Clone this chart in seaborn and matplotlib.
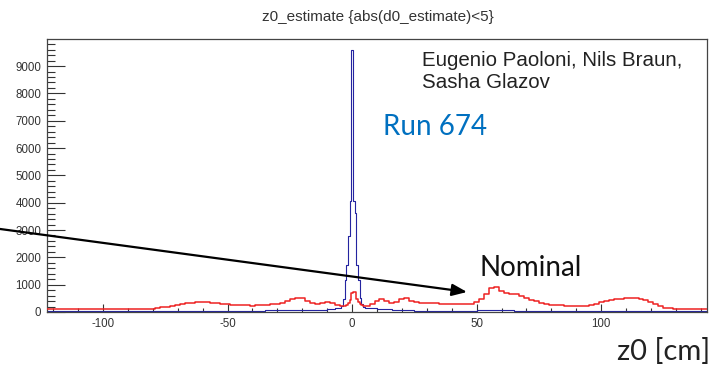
import numpy as np
import matplotlib
matplotlib.use("Agg")
import matplotlib.pyplot as plt
import seaborn as sns
from matplotlib.ticker import MultipleLocator
from matplotlib.patches import FancyArrowPatch

# ---- binning: 2 cm bins outside the core, 2/3 cm bins for |z0| < 5 cm ----
core_edges = np.linspace(-5, 5, 16)

nominal_edges = np.concatenate([
    np.arange(-123, -5 + 1e-9, 2.0),
    core_edges[1:],
    np.arange(7, 143 + 1e-9, 2.0),
]).tolist()
run_edges = np.concatenate([
    [-123, -60, -35, -20, -10, -7],
    core_edges,
    [7, 10, 16, 25, 50, 65, 143],
]).tolist()

# ---- counts per bin ----
nominal_left = [110, 95, 105, 100, 95, 110, 100, 105, 95, 100,
                110, 100, 95, 105, 100, 110, 100, 95, 105, 110,
                115, 120, 140, 170, 200, 230, 260, 290, 320, 340,
                355, 360, 350, 345, 330, 310, 290, 270, 255, 245,
                240, 235, 240, 250, 265, 280, 300, 330, 390, 460,
                530, 520, 420, 330, 310, 330, 360, 320, 240]
nominal_core = [230, 220, 210, 230, 260, 320, 450, 700, 740, 720,
                480, 360, 300, 250, 220]
nominal_right = [210, 300, 420, 460, 400, 330, 350, 460, 530, 420,
                 360, 340, 330, 320, 320, 310, 300, 290, 280, 275,
                 280, 300, 350, 470, 650, 880, 920, 780, 700, 660,
                 650, 600, 520, 450, 390, 340, 300, 270, 250, 240,
                 230, 225, 220, 225, 235, 260, 300, 350, 400, 430,
                 460, 480, 500, 515, 510, 490, 440, 360, 280, 210,
                 160, 130, 110, 100, 95, 100, 105, 95, 100]
nominal_counts = nominal_left + nominal_core + nominal_right

run_left = [20, 30, 60, 80, 100, 130]
run_core = [160, 230, 480, 1180, 1730, 2770, 4050, 9570, 4050, 3630,
            1730, 1180, 500, 280, 180]
run_right = [150, 140, 120, 70, 30, 60, 20]
run_counts = run_left + run_core + run_right

x_ticks = [-100, -50, 0, 50, 100]
y_ticks = [0, 1000, 2000, 3000, 4000, 5000, 6000, 7000, 8000, 9000]

W, H = 713, 365


def fig_xy(x, y):
    return x / W, 1 - y / H


def centers(edges):
    e = np.asarray(edges, dtype=float)
    return 0.5 * (e[:-1] + e[1:])


sns.set_style("white")
plt.rcParams["font.family"] = ["Liberation Sans", "DejaVu Sans"]

fig = plt.figure(figsize=(W / 100, H / 100), dpi=100)
ax = fig.add_axes([47 / W, 1 - 312 / H, (707 - 47) / W, (312 - 39) / H])

sns.histplot(x=centers(nominal_edges), weights=nominal_counts,
             bins=nominal_edges, element="step", fill=False,
             color="#ee2222", linewidth=1.1, ax=ax, zorder=3)
sns.histplot(x=centers(run_edges), weights=run_counts,
             bins=run_edges, element="step", fill=False,
             color="#2424a0", linewidth=0.8, ax=ax, zorder=2)

ax.set_xlim(-122.5, 142.5)
ax.set_ylim(0, 9990)
ax.set_xlabel("")
ax.set_ylabel("")

ax.set_xticks(x_ticks)
ax.set_xticklabels([str(v) for v in x_ticks])
ax.xaxis.set_minor_locator(MultipleLocator(10))
ax.set_yticks(y_ticks)
ax.set_yticklabels([str(v) for v in y_ticks])
ax.yaxis.set_minor_locator(MultipleLocator(200))

ax.tick_params(axis="both", which="both", direction="in", colors="#333333",
               width=0.8, labelsize=8.3,
               left=True, bottom=True, right=False, top=False)
ax.tick_params(axis="y", which="major", length=13, pad=4)
ax.tick_params(axis="y", which="minor", length=5.8)
ax.tick_params(axis="x", which="major", length=5.8, pad=4)
ax.tick_params(axis="x", which="minor", length=2.9)

for side in ["left", "right", "top", "bottom"]:
    ax.spines[side].set_visible(True)
    ax.spines[side].set_color("#444444")
    ax.spines[side].set_linewidth(0.9)

fig.text(*fig_xy(378, 17), "z0_estimate {abs(d0_estimate)<5}",
         ha="center", va="center", fontsize=11, color="#333333")
fig.text(*fig_xy(422, 60), "Eugenio Paoloni, Nils Braun,",
         ha="left", va="center", fontsize=14.8, color="#222222")
fig.text(*fig_xy(422, 82), "Sasha Glazov",
         ha="left", va="center", fontsize=14.8, color="#222222")
fig.text(*fig_xy(383, 127), "Run 674", ha="left", va="center",
         fontsize=20, color="#0070C0", family=["Lato", "DejaVu Sans"])
fig.text(*fig_xy(480, 268), "Nominal", ha="left", va="center",
         fontsize=20, color="#111111", family=["Lato", "DejaVu Sans"])
fig.text(*fig_xy(710, 351), "z0 [cm]", ha="right", va="center",
         fontsize=21, color="#222222", family=["Lato", "DejaVu Sans"])

arrow = FancyArrowPatch(fig_xy(-5, 228.3), fig_xy(467, 292),
                        transform=fig.transFigure,
                        arrowstyle="-|>,head_length=9,head_width=3.6",
                        mutation_scale=1, shrinkA=0, shrinkB=0,
                        lw=1.6, color="black", zorder=10)
fig.add_artist(arrow)

fig.savefig("out.png", dpi=100)
